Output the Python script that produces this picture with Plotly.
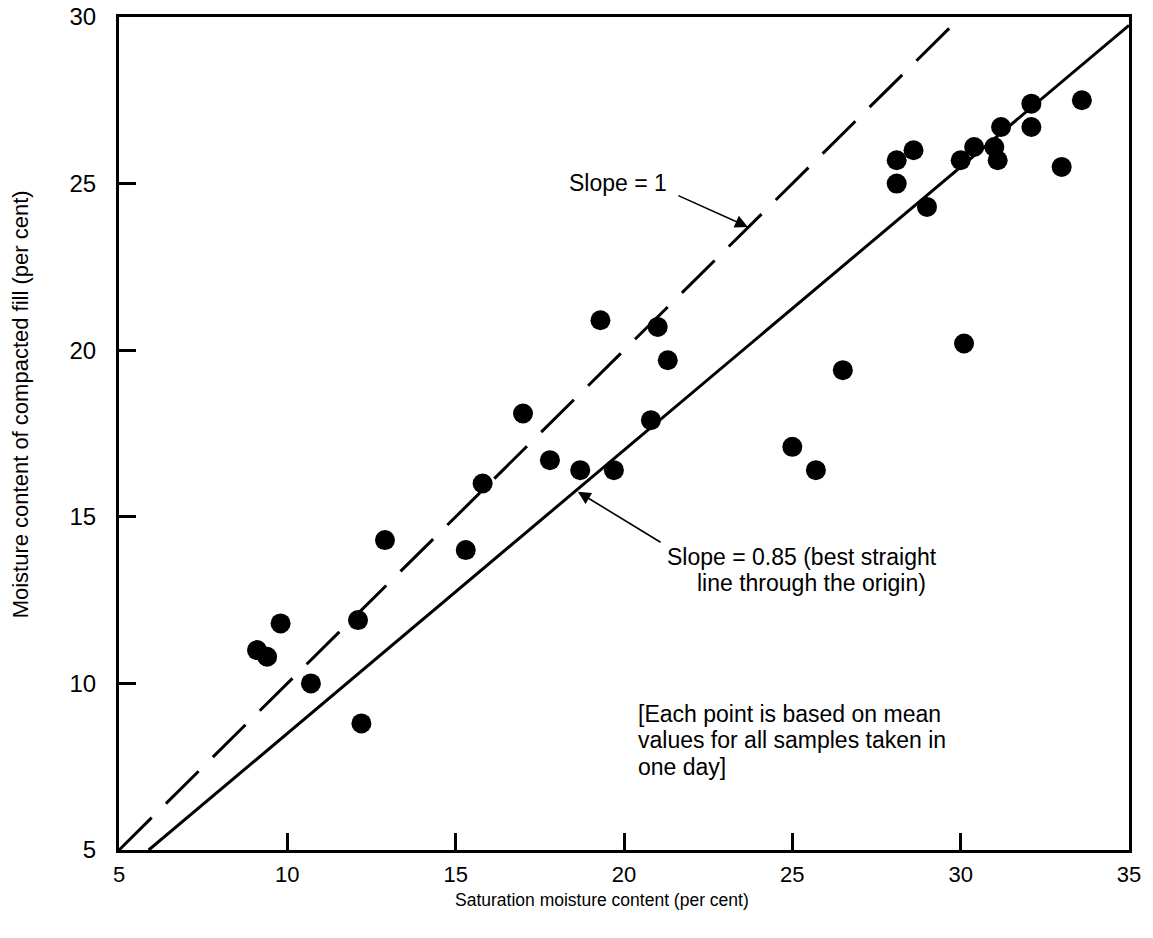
import plotly.graph_objects as go

# Data
saturation_moisture = [9.1, 9.4, 9.8, 10.7, 12.1, 12.2, 12.9, 15.3, 15.8, 17.0,
                       17.8, 18.7, 19.3, 19.7, 20.8, 21.0, 21.3, 25.0, 25.7, 26.5,
                       28.1, 28.1, 28.6, 29.0, 30.0, 30.1, 30.4, 31.0, 31.1, 31.2,
                       32.1, 32.1, 33.0, 33.6]
fill_moisture = [11.0, 10.8, 11.8, 10.0, 11.9, 8.8, 14.3, 14.0, 16.0, 18.1,
                 16.7, 16.4, 20.9, 16.4, 17.9, 20.7, 19.7, 17.1, 16.4, 19.4,
                 25.7, 25.0, 26.0, 24.3, 25.7, 20.2, 26.1, 26.1, 25.7, 26.7,
                 27.4, 26.7, 25.5, 27.5]

slope_equal = 1.0
slope_fit = 0.85

x_ticks = [5, 10, 15, 20, 25, 30, 35]
y_ticks = [5, 10, 15, 20, 25, 30]
x_range = [5, 35]
y_range = [5, 30]

FONT = "Liberation Sans, Arial, sans-serif"

fig = go.Figure()

# Slope = 1 line (dashed)
x_eq = [y_range[0] / slope_equal, y_range[1] / slope_equal]
fig.add_trace(go.Scatter(x=x_eq, y=[slope_equal * v for v in x_eq], mode="lines",
                         line=dict(color="black", width=3, dash="46px,20px"),
                         hoverinfo="skip"))
# Slope = 0.85 line (solid)
x_fit = [y_range[0] / slope_fit, x_range[1]]
fig.add_trace(go.Scatter(x=x_fit, y=[slope_fit * v for v in x_fit], mode="lines",
                         line=dict(color="black", width=3), hoverinfo="skip"))
# Points
fig.add_trace(go.Scatter(x=saturation_moisture, y=fill_moisture, mode="markers",
                         marker=dict(color="black", size=20, line=dict(width=0))))

axis_common = dict(showgrid=False, zeroline=False, showline=True, linecolor="black",
                   linewidth=3, mirror=True, ticks="inside", ticklen=17, tickwidth=3,
                   tickcolor="black")

fig.update_xaxes(range=x_range, tickvals=x_ticks, ticktext=[str(v) for v in x_ticks],
                 ticklabelstandoff=3, tickfont=dict(family=FONT, size=22, color="black"),
                 **axis_common)
fig.update_yaxes(range=y_range, tickvals=y_ticks, ticktext=[str(v) for v in y_ticks],
                 ticklabelstandoff=15, tickfont=dict(family=FONT, size=24, color="black"),
                 **axis_common)

annotations = [
    # axis titles
    dict(text="Saturation moisture content (per cent)", xref="paper", yref="paper",
         x=0.478, y=-0.0600, xanchor="center", yanchor="middle", showarrow=False,
         font=dict(family=FONT, size=17.5, color="black")),
    dict(text="Moisture content of compacted fill (per cent)", xref="paper", yref="paper",
         x=-0.098, y=0.535, xanchor="center", yanchor="middle", textangle=-90, showarrow=False,
         font=dict(family=FONT, size=22, color="black")),
    # Slope = 1
    dict(text="Slope = 1", x=18.31, y=25.02, xanchor="left", yanchor="middle",
         showarrow=False, font=dict(family=FONT, size=23, color="black")),
    dict(text="", x=23.68, y=23.70, ax=21.57, ay=24.66, axref="x", ayref="y",
         showarrow=True, arrowhead=2, arrowsize=1.6, arrowwidth=1.6, arrowcolor="black"),
    # Slope = 0.85
    dict(text="Slope = 0.85 (best straight", x=21.22, y=13.79, xanchor="left", yanchor="middle",
         showarrow=False, font=dict(family=FONT, size=23, color="black")),
    dict(text="line through the origin)", x=22.12, y=13.01, xanchor="left", yanchor="middle",
         showarrow=False, font=dict(family=FONT, size=23, color="black")),
    dict(text="", x=18.63, y=15.75, ax=21.13, ay=14.21, axref="x", ayref="y",
         showarrow=True, arrowhead=2, arrowsize=1.6, arrowwidth=1.6, arrowcolor="black"),
    # note
    dict(text="[Each point is based on mean", x=20.36, y=9.08, xanchor="left", yanchor="middle",
         showarrow=False, font=dict(family=FONT, size=23, color="black")),
    dict(text="values for all samples taken in", x=20.36, y=8.30, xanchor="left", yanchor="middle",
         showarrow=False, font=dict(family=FONT, size=23, color="black")),
    dict(text="one day]", x=20.36, y=7.49, xanchor="left", yanchor="middle",
         showarrow=False, font=dict(family=FONT, size=23, color="black")),
]

fig.update_layout(width=1153, height=938, margin=dict(l=119, r=24, t=17, b=88, autoexpand=False),
                  plot_bgcolor="white", paper_bgcolor="white", showlegend=False,
                  font=dict(family=FONT, color="black"), annotations=annotations)

fig.write_html("out.html")
